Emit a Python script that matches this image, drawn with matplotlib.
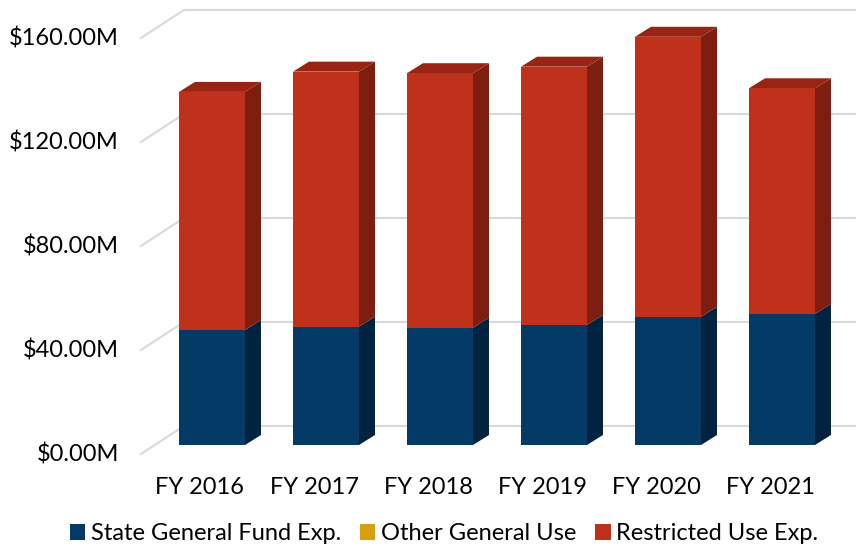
import matplotlib
matplotlib.use("Agg")
import matplotlib.pyplot as plt
import matplotlib.patches as mpatches
import numpy as np

categories = ["FY 2016", "FY 2017", "FY 2018", "FY 2019", "FY 2020", "FY 2021"]
state_general = [44.2, 45.5, 45.1, 46.2, 49.3, 50.4]
other_general = [0.0, 0.0, 0.0, 0.0, 0.0, 0.0]
restricted = [91.6, 98.1, 97.9, 99.3, 107.7, 86.8]
tick_values = [0, 40, 80, 120, 160]
tick_labels = ["$0.00M", "$40.00M", "$80.00M", "$120.00M", "$160.00M"]
series_names = ["State General Fund Exp.", "Other General Use", "Restricted Use Exp."]

plt.rcParams['font.family'] = ['Lato', 'DejaVu Sans']

W, H = 856, 548
fig = plt.figure(figsize=(W / 100, H / 100), dpi=100)
ax = fig.add_axes([0, 0, 1, 1])
ax.set_axis_off()

px_per_cat = 114.0
px_per_m = 2.6
ax.set_xlim(-212 / px_per_cat, (W - 212) / px_per_cat)
ax.set_ylim(-103 / px_per_m, (H - 103) / px_per_m)

# depth offsets (converted to data units)
bdx, bdy = 16 / px_per_cat, 10 / px_per_m          # bar depth
fdx, fdy = -14 / px_per_cat, -9 / px_per_m         # wall front plane
kdx, kdy = 29 / px_per_cat, 19 / px_per_m          # wall back plane

grid_c = "#D9D9D9"
x_left = -0.5
x_right = 5.6
for v in tick_values:
    ax.plot([x_left + fdx, x_left + kdx], [v + fdy, v + kdy], color=grid_c, lw=1.5, zorder=1)
    ax.plot([x_left + kdx, x_right + kdx], [v + kdy, v + kdy], color=grid_c, lw=1.5, zorder=1)

# tick labels
for v, lab in zip(tick_values, tick_labels):
    ax.text(x_left + fdx - 22 / px_per_cat, v + fdy, lab, ha="right", va="center",
            fontsize=17, color="#000000")

colors = {
    "blue": ("#033A66", "#02233F", "#032D50"),
    "gold": ("#D5A00F", "#8E6A08", "#B0850B"),
    "red": ("#C0311B", "#7E1E10", "#9A2413"),
}
bw = 66 / px_per_cat


def draw_box(xc, y0, y1, cols, z, top=True):
    front, side, topc = cols
    xl, xr = xc - bw / 2, xc + bw / 2
    ax.add_patch(mpatches.Polygon([[xr, y0], [xr + bdx, y0 + bdy], [xr + bdx, y1 + bdy], [xr, y1]],
                                  closed=True, facecolor=side, edgecolor="none", zorder=z))
    if top:
        ax.add_patch(mpatches.Polygon([[xl, y1], [xr, y1], [xr + bdx, y1 + bdy], [xl + bdx, y1 + bdy]],
                                      closed=True, facecolor=topc, edgecolor="none", zorder=z))
    ax.add_patch(mpatches.Rectangle((xl, y0), bw, y1 - y0, facecolor=front, edgecolor="none", zorder=z + 0.5))


for i in range(len(categories)):
    b0 = 0
    b1 = state_general[i]
    b2 = b1 + other_general[i]
    b3 = b2 + restricted[i]
    draw_box(i, b0, b1, colors["blue"], 3, top=False)
    if other_general[i] > 0:
        draw_box(i, b1, b2, colors["gold"], 3, top=False)
    draw_box(i, b2, b3, colors["red"], 3, top=True)
    ax.text(i + fdx + 2 / px_per_cat, fdy - 34 / px_per_m, categories[i], ha="center", va="center",
            fontsize=17, color="#000000")

handles = [mpatches.Patch(facecolor=c, edgecolor="none") for c in ("#033A66", "#D5A00F", "#C0311B")]
fig.legend(handles, series_names, loc="center", bbox_to_anchor=(0.519, 14 / H), ncol=3,
           frameon=False, fontsize=17, handlelength=0.64, handleheight=0.64, handletextpad=0.25,
           columnspacing=0.8, borderpad=0)

fig.savefig("out.png", dpi=100)
